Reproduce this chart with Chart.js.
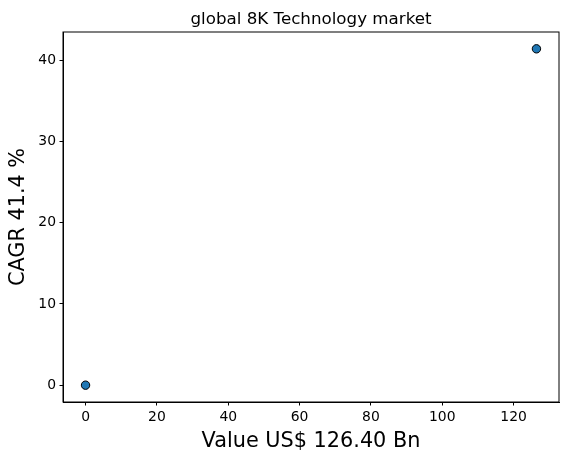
<!DOCTYPE html>
<html>
<head>
<meta charset="utf-8">
<script src="https://cdn.jsdelivr.net/npm/chart.js@4"></script>
<style>
    html, body { margin: 0; padding: 0; background: #ffffff; }
    #wrap { width: 568px; height: 461px; }
</style>
</head>
<body>
<div id="wrap"><canvas id="chart" width="568" height="461"></canvas></div>
<script>
// values
const marketValues = [0, 126.4];
const cagrValues = [0, 41.4];
const xTickValues = [0, 20, 40, 60, 80, 100, 120];
const yTickValues = [0, 10, 20, 30, 40];

const chartTitle = 'global 8K Technology market';
const xTitle = 'Value US$ 126.40 Bn';
const yTitle = 'CAGR 41.4 %';

const points = marketValues.map((v, i) => ({ x: v, y: cagrValues[i] }));

// matplotlib-like 5% margins around the data
function padRange(values) {
    const lo = Math.min(...values);
    const hi = Math.max(...values);
    const m = (hi - lo) * 0.05;
    return { min: lo - m, max: hi + m };
}
const xRange = padRange(marketValues);
const yRange = padRange(cagrValues);

const fontFamily = '"DejaVu Sans", sans-serif';

const frame = {
    id: 'frame',
    afterDraw(chart) {
        const { ctx, chartArea } = chart;
        ctx.save();
        ctx.strokeStyle = '#000000';
        ctx.lineWidth = 1;
        ctx.strokeRect(chartArea.left, chartArea.top, chartArea.right - chartArea.left, chartArea.bottom - chartArea.top);
        ctx.restore();
    }
};

new Chart(document.getElementById('chart'), {
    type: 'scatter',
    data: {
        datasets: [{
            data: points,
            backgroundColor: '#1f77b4',
            borderColor: '#000000',
            borderWidth: 1,
            pointRadius: 4.2,
            pointHoverRadius: 4.2,
        }]
    },
    options: {
        responsive: false,
        animation: false,
        layout: { padding: { left: 0, right: 9, top: 0, bottom: 0 } },
        plugins: {
            legend: { display: false },
            tooltip: { enabled: false },
            title: { display: false }
        },
        scales: {
            // top axis only carries the title so it centres over the plot like matplotlib
            top: {
                type: 'linear',
                position: 'top',
                min: xRange.min,
                max: xRange.max,
                afterFit: (scale) => { scale.height = 32; },
                grid: { display: false, drawTicks: false },
                border: { display: false },
                ticks: { display: false },
                title: {
                    display: true,
                    text: chartTitle,
                    color: '#000000',
                    font: { family: fontFamily, size: 16.7, weight: 'normal' },
                    padding: { top: 9.5, bottom: 0 }
                }
            },
            x: {
                type: 'linear',
                min: xRange.min,
                max: xRange.max,
                afterBuildTicks: (scale) => { scale.ticks = xTickValues.map((v) => ({ value: v })); },
                afterFit: (scale) => { scale.height = 59; },
                grid: { drawOnChartArea: false, drawTicks: true, tickLength: 3.5, color: '#000000' },
                border: { display: true, color: '#000000' },
                ticks: { color: '#000000', padding: 3.5, maxRotation: 0, font: { family: fontFamily, size: 13.9 } },
                title: {
                    display: true,
                    text: xTitle,
                    color: '#000000',
                    font: { family: fontFamily, size: 20.8 },
                    padding: { top: 0, bottom: 7 }
                }
            },
            y: {
                type: 'linear',
                min: yRange.min,
                max: yRange.max,
                afterBuildTicks: (scale) => { scale.ticks = yTickValues.map((v) => ({ value: v })); },
                afterFit: (scale) => { scale.width = 63; },
                grid: { drawOnChartArea: false, drawTicks: true, tickLength: 3.5, color: '#000000' },
                border: { display: true, color: '#000000' },
                ticks: { color: '#000000', padding: 3.5, font: { family: fontFamily, size: 13.9 } },
                title: {
                    display: true,
                    text: yTitle,
                    color: '#000000',
                    font: { family: fontFamily, size: 20.8 },
                    padding: { top: 6, bottom: 0 }
                }
            }
        }
    },
    plugins: [frame]
});
</script>
</body>
</html>
